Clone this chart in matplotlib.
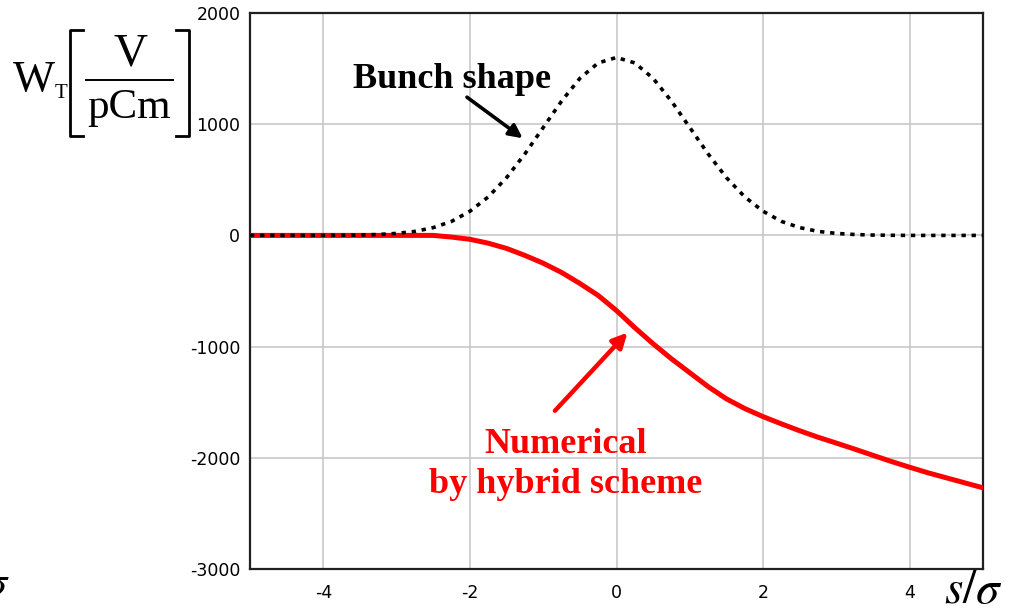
import matplotlib
matplotlib.use("Agg")
import matplotlib.pyplot as plt
from matplotlib.lines import Line2D

plt.rcParams['axes.unicode_minus'] = False

# s/sigma positions
s_pos = [-5.0, -4.75, -4.5, -4.25, -4.0, -3.75, -3.5, -3.25, -3.0, -2.75,
         -2.5, -2.25, -2.0, -1.75, -1.5, -1.25, -1.0, -0.75, -0.5, -0.25,
         0.0, 0.25, 0.5, 0.75, 1.0, 1.25, 1.5, 1.75, 2.0, 2.25,
         2.5, 2.75, 3.0, 3.25, 3.5, 3.75, 4.0, 4.25, 4.5, 4.75, 5.0]

# bunch shape (dotted black)
bunch = [0, 0, 0, 0, 0, 1, 3, 8, 18, 36,
         70, 126, 217, 346, 519, 733, 970, 1207, 1412, 1551,
         1600, 1551, 1412, 1207, 970, 733, 519, 346, 217, 126,
         70, 36, 18, 8, 3, 1, 0, 0, 0, 0, 0]

# numerical wake W_T (red)
wake = [0, 0, 0, 0, 0, 0, 0, 0, 0, 0,
        0, -15, -35, -70, -117, -180, -250, -333, -432, -540,
        -676, -830, -975, -1110, -1235, -1360, -1470, -1557, -1630, -1695,
        -1757, -1815, -1868, -1922, -1978, -2033, -2085, -2135, -2180, -2225,
        -2270]

x_ticks = [-4, -2, 0, 2, 4]
y_ticks = [-3000, -2000, -1000, 0, 1000, 2000]

W, H = 1009, 614
fig = plt.figure(figsize=(W / 100, H / 100), dpi=100)
ax = fig.add_axes([250 / W, 1 - 569 / H, (983 - 250) / W, (569 - 13) / H])

ax.plot(s_pos, wake, color='#ff0000', lw=3.6, zorder=3)
ax.plot(s_pos, bunch, color='black', lw=2.6, dashes=(1.2, 1.6), zorder=4)

ax.set_xlim(-5, 5)
ax.set_ylim(-3000, 2000)
ax.set_xticks(x_ticks)
ax.set_yticks(y_ticks)
ax.grid(True, color='#c8c8c8', lw=1.2)
ax.set_axisbelow(True)
ax.tick_params(length=0, labelsize=12.5)
ax.tick_params(axis='x', pad=11)
ax.tick_params(axis='y', pad=7)
for sp in ax.spines.values():
    sp.set_linewidth(1.6)
    sp.set_color('#202020')

serif = 'Liberation Serif'

# annotations
ax.text(-2.25, 1405, 'Bunch shape', fontsize=26, fontweight='bold',
        family=serif, ha='center', va='center')
ax.annotate('', xy=(-1.28, 874), xytext=(-2.04, 1243),
            arrowprops=dict(arrowstyle='-|>', color='black', lw=2.6,
                            mutation_scale=20, shrinkA=0, shrinkB=0))
ax.text(-0.7, -2060, 'Numerical\nby hybrid scheme', fontsize=26,
        fontweight='bold', family=serif, color='#ff0000', ha='center',
        va='center', linespacing=1.3)
ax.annotate('', xy=(0.15, -874), xytext=(-0.84, -1577),
            arrowprops=dict(arrowstyle='-|>', color='#ff0000', lw=3.2,
                            mutation_scale=22, shrinkA=0, shrinkB=0))

# x axis label
fig.text(973 / W, 1 - 591 / H, r'$s/\sigma$', fontsize=34, ha='center',
         va='center', math_fontfamily='stix')
fig.text(-16 / W, 1 - 584 / H, r'$\sigma$', fontsize=32, ha='left',
         va='center', math_fontfamily='stix')

# y axis label  W_T [ V / pCm ]
fig.text(34 / W, 1 - 80 / H, 'W', fontsize=32, family=serif,
         ha='center', va='center')
fig.text(61 / W, 1 - 93 / H, 'T', fontsize=15, family=serif,
         ha='center', va='center')
fig.text(131 / W, 1 - 54 / H, 'V', fontsize=34, family=serif,
         ha='center', va='center')
fig.text(129 / W, 1 - 108 / H, 'pCm', fontsize=31, family=serif,
         ha='center', va='center')
def fline(xs, ys, lw=1.6):
    fig.add_artist(Line2D([x / W for x in xs], [1 - y / H for y in ys],
                          color='black', lw=lw, transform=fig.transFigure))
fline([86, 173], [80, 80], lw=1.4)
fline([83, 70, 70, 83], [30, 30, 136, 136], lw=2)
fline([176, 189, 189, 176], [30, 30, 136, 136], lw=2)

fig.savefig('out.png', dpi=100)
